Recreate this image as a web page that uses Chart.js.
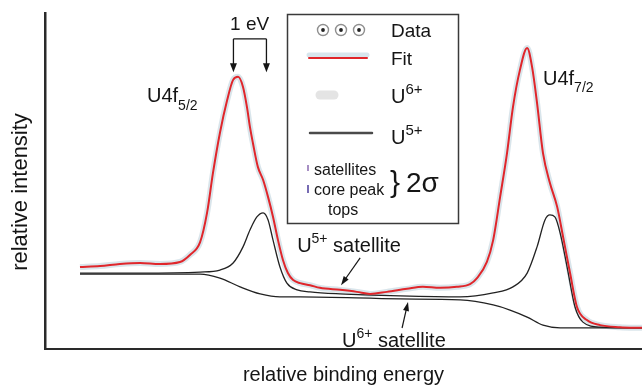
<!DOCTYPE html>
<html>
<head>
<meta charset="utf-8">
<script src="https://cdn.jsdelivr.net/npm/chart.js@4/dist/chart.umd.min.js"></script>
<style>
  html, body { margin: 0; padding: 0; background: #fff; }
</style>
</head>
<body>
<canvas id="xpsChart" width="642" height="387"></canvas>
<script>
// U4f spectrum, values (energy in eV, intensity in arbitrary units)
const fitEnergy = [1.06, 1.67, 2.27, 2.88, 3.48, 4.09, 4.39, 4.70, 4.91, 5.09, 5.30, 5.52, 5.70, 5.85,
  6.00, 6.12, 6.21, 6.30, 6.45, 6.61, 6.76, 6.91, 7.06, 7.21, 7.36, 7.52, 7.73, 8.03, 8.33, 8.94,
  9.45, 9.85, 10.36, 10.97, 11.45, 11.97, 12.48, 12.88, 13.09, 13.39, 13.58, 13.79, 14.00, 14.18,
  14.39, 14.61, 14.76, 14.91, 15.09, 15.30, 15.52, 15.70, 15.91, 16.12, 16.42, 16.82, 17.42, 18.09];
const fitIntensity = [24.4, 24.7, 25.3, 25.6, 25.3, 25.9, 28.0, 31.8, 40.5, 52.4, 64.3, 74.1, 80.1, 81.0,
  78.0, 72.0, 66.1, 61.3, 54.2, 50.3, 45.2, 39.3, 32.4, 26.5, 22.6, 20.5, 19.6, 19.0, 18.2, 17.6,
  17.0, 16.4, 17.0, 17.9, 18.5, 18.2, 18.5, 19.3, 21.1, 25.9, 32.4, 45.2, 58.3, 72.0,
  83.0, 89.6, 83.9, 73.2, 58.3, 49.4, 42.3, 33.3, 22.6, 12.5, 8.6, 7.1, 6.5, 6.3];

const u5Energy = [1.06, 2.88, 4.70, 5.30, 5.70, 6.00, 6.21, 6.42, 6.61, 6.76, 6.91, 7.12, 7.33, 7.64,
  8.03, 8.94, 10.76, 12.58, 13.58, 14.18, 14.61, 14.91, 15.15, 15.30, 15.45, 15.61, 15.82, 16.06,
  16.30, 16.82, 18.09];
const u5Intensity = [22.6, 22.6, 22.9, 23.5, 25.6, 30.4, 35.4, 39.3, 40.5, 38.4, 32.4, 24.4, 19.6, 17.6,
  17.0, 16.4, 15.8, 15.5, 16.7, 18.5, 22.6, 30.4, 38.4, 39.9, 39.3, 34.5, 24.4, 12.5,
  8.0, 6.5, 6.3];

const bgEnergy = [1.06, 4.70, 5.30, 5.91, 6.52, 7.12, 7.73, 10.76, 12.58, 13.58, 14.09, 14.61, 15.09, 15.61, 18.09];
const bgIntensity = [22.3, 22.3, 21.1, 18.5, 16.4, 15.5, 15.5, 14.9, 14.6, 13.1, 11.6, 9.5, 7.1, 6.3, 6.3];

const FONT = "'Liberation Sans', Arial, Helvetica, sans-serif";
const INK = "#151515";

function toPoints(xs, ys) {
  return xs.map(function(x, i) { return { x: x, y: ys[i] }; });
}

// text with a super- or subscript tail, returns x after it
function scripted(ctx, left, base, main, tail, size, tailSize, shift) {
  ctx.font = size + "px " + FONT;
  ctx.fillText(main, left, base);
  let x = left + ctx.measureText(main).width;
  ctx.font = tailSize + "px " + FONT;
  ctx.fillText(tail, x, base + shift);
  return x + ctx.measureText(tail).width;
}

function arrow(ctx, x1, y1, x2, y2, len, half) {
  const a = Math.atan2(y2 - y1, x2 - x1);
  ctx.beginPath();
  ctx.moveTo(x1, y1);
  ctx.lineTo(x2 - Math.cos(a) * len * 0.6, y2 - Math.sin(a) * len * 0.6);
  ctx.stroke();
  ctx.beginPath();
  ctx.moveTo(x2, y2);
  ctx.lineTo(x2 - Math.cos(a) * len + Math.sin(a) * half, y2 - Math.sin(a) * len - Math.cos(a) * half);
  ctx.lineTo(x2 - Math.cos(a) * len - Math.sin(a) * half, y2 - Math.sin(a) * len + Math.cos(a) * half);
  ctx.closePath();
  ctx.fill();
}

const annotations = {
  id: "xpsAnnotations",
  afterDraw: function(chart) {
    const ctx = chart.ctx;
    const sx = chart.scales.x;
    const sy = chart.scales.y;
    const px = function(v) { return sx.getPixelForValue(v); };
    const py = function(v) { return sy.getPixelForValue(v); };

    ctx.save();
    ctx.fillStyle = INK;
    ctx.strokeStyle = INK;
    ctx.textBaseline = "alphabetic";
    ctx.textAlign = "left";

    // y axis title, sits a little below the middle of the axis in the original
    ctx.save();
    ctx.translate(21, 192);
    ctx.rotate(-Math.PI / 2);
    ctx.textAlign = "center";
    ctx.textBaseline = "middle";
    ctx.font = "22px " + FONT;
    ctx.fillText("relative intensity", 0, 0);
    ctx.restore();

    // 1 eV bracket over the 4f5/2 peak
    const eL = 5.71, eR = 6.71;
    ctx.lineWidth = 1.3;
    ctx.beginPath();
    ctx.moveTo(px(eL), py(92.3));
    ctx.lineTo(px(eR), py(92.3));
    ctx.stroke();
    arrow(ctx, px(eL), py(92.3), px(eL), py(82.4), 9, 3.5);
    arrow(ctx, px(eR), py(92.3), px(eR), py(82.4), 9, 3.5);
    ctx.font = "19px " + FONT;
    ctx.textAlign = "center";
    ctx.fillText("1 eV", px(6.2), py(95.0));
    ctx.textAlign = "left";

    // peak labels
    scripted(ctx, px(3.09), py(73.5), "U4f", "5/2", 20, 14, 8);
    scripted(ctx, px(15.09), py(78.6), "U4f", "7/2", 20, 14, 7);

    // satellites
    let x = scripted(ctx, px(7.64), py(28.8), "U", "5+", 20, 14, -9);
    ctx.font = "20px " + FONT;
    ctx.fillText(" satellite", x, py(28.8));
    ctx.lineWidth = 1.2;
    arrow(ctx, px(9.55), py(27.1), px(8.97), py(19.0), 9, 3);

    x = scripted(ctx, px(9.0), py(0.6), "U", "6+", 20, 14, -9);
    ctx.font = "20px " + FONT;
    ctx.fillText(" satellite", x, py(0.6));
    arrow(ctx, px(10.82), py(6.25), px(11.0), py(14.0), 9, 3);

    // legend box
    ctx.lineWidth = 1.5;
    ctx.strokeStyle = "#3a3a3a";
    ctx.strokeRect(287.5, 14.5, 171, 209);

    // Data symbols
    [323, 341, 359].forEach(function(cx) {
      ctx.beginPath();
      ctx.arc(cx, 30, 5.5, 0, Math.PI * 2);
      ctx.strokeStyle = "#8f8f8f";
      ctx.lineWidth = 1.4;
      ctx.stroke();
      ctx.beginPath();
      ctx.arc(cx, 30, 1.9, 0, Math.PI * 2);
      ctx.fillStyle = "#222";
      ctx.fill();
    });
    // Fit
    ctx.lineCap = "round";
    ctx.strokeStyle = "rgba(175,205,220,0.5)";
    ctx.lineWidth = 5;
    ctx.beginPath(); ctx.moveTo(309, 55); ctx.lineTo(367, 55); ctx.stroke();
    ctx.strokeStyle = "#e0262b";
    ctx.lineWidth = 2;
    ctx.beginPath(); ctx.moveTo(309, 58); ctx.lineTo(367, 58); ctx.stroke();
    // U6+
    ctx.strokeStyle = "#e4e4e4";
    ctx.lineWidth = 9;
    ctx.beginPath(); ctx.moveTo(320, 95); ctx.lineTo(334, 95); ctx.stroke();
    // U5+
    ctx.strokeStyle = "#4a4a4a";
    ctx.lineWidth = 2.5;
    ctx.beginPath(); ctx.moveTo(310, 133); ctx.lineTo(372, 133); ctx.stroke();
    // 2 sigma marks
    ctx.lineCap = "butt";
    ctx.lineWidth = 1.5;
    ctx.strokeStyle = "#8a6ab0";
    ctx.beginPath(); ctx.moveTo(308, 165); ctx.lineTo(308, 171); ctx.stroke();
    ctx.strokeStyle = "#4a3a9a";
    ctx.beginPath(); ctx.moveTo(308, 185); ctx.lineTo(308, 193); ctx.stroke();

    ctx.fillStyle = INK;
    ctx.font = "19px " + FONT;
    ctx.fillText("Data", 391, 37);
    ctx.fillText("Fit", 391, 65);
    scripted(ctx, 391, 103, "U", "6+", 20, 15, -9);
    scripted(ctx, 391, 144, "U", "5+", 20, 15, -9);
    ctx.font = "16px " + FONT;
    ctx.fillText("satellites", 314, 175);
    ctx.fillText("core peak", 314, 195);
    ctx.fillText("tops", 328, 215);
    ctx.font = "30px " + FONT;
    ctx.fillText("}", 390, 192);
    ctx.font = "28px " + FONT;
    ctx.fillText("2\u03c3", 406, 192);

    ctx.restore();
  }
};

const ctx = document.getElementById("xpsChart").getContext("2d");
new Chart(ctx, {
  type: "scatter",
  data: {
    datasets: [
      {
        label: "Fit",
        data: toPoints(fitEnergy, fitIntensity),
        showLine: true,
        borderColor: "#e0262b",
        borderWidth: 2,
        pointRadius: 0,
        cubicInterpolationMode: "monotone"
      },
      {
        label: "U5+",
        data: toPoints(u5Energy, u5Intensity),
        showLine: true,
        borderColor: "#222",
        borderWidth: 1.3,
        pointRadius: 0,
        cubicInterpolationMode: "monotone"
      },
      {
        label: "Background",
        data: toPoints(bgEnergy, bgIntensity),
        showLine: true,
        borderColor: "#222",
        borderWidth: 1.3,
        pointRadius: 0,
        cubicInterpolationMode: "monotone"
      },
      {
        // measured points sit on the fit at this scale, drawn as a soft band
        label: "Data",
        data: toPoints(fitEnergy, fitIntensity),
        showLine: true,
        borderColor: "rgba(160,190,205,0.4)",
        borderWidth: 6,
        pointRadius: 0,
        cubicInterpolationMode: "monotone"
      }
    ]
  },
  options: {
    responsive: false,
    animation: false,
    layout: { padding: { top: 13, right: 0, left: 0, bottom: 0 } },
    plugins: {
      legend: { display: false },
      tooltip: { enabled: false }
    },
    scales: {
      x: {
        type: "linear",
        min: 0,
        max: 18.09,
        grid: { display: false, drawTicks: false },
        ticks: { display: false },
        border: { display: true, color: "#2a2a2a", width: 2 },
        title: {
          display: true,
          text: "relative binding energy",
          color: INK,
          font: { family: FONT, size: 20 },
          padding: { top: 0, bottom: 0 }
        },
        afterFit: function(scale) { scale.height = 38; }
      },
      y: {
        type: "linear",
        min: 0,
        max: 100,
        grid: { display: false, drawTicks: false },
        ticks: { display: false },
        border: { display: true, color: "#2a2a2a", width: 2.5 },
        title: { display: false },
        afterFit: function(scale) { scale.width = 45; }
      }
    }
  },
  plugins: [annotations]
});
</script>
</body>
</html>
